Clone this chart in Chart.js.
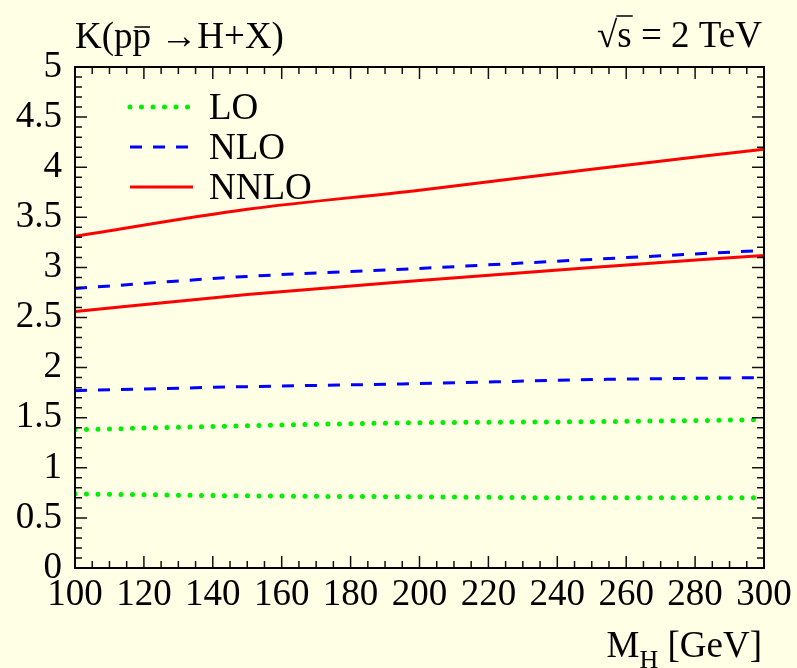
<!DOCTYPE html>
<html>
<head>
<meta charset="utf-8">
<title>K factor for Higgs production at the Tevatron</title>
<script src="https://cdn.jsdelivr.net/npm/chart.js@4.4.0/dist/chart.umd.min.js"></script>
<style>
	html, body { margin: 0; padding: 0; background: #ffffe5; }
	#kChart { display: block; }
</style>
</head>
<body>
<canvas id="kChart" width="797" height="668"></canvas>
<script>
//K factor vs Higgs mass, pp-bar -> H+X at sqrt(s) = 2 TeV

//Higgs masses (GeV)
const massPoints = [100, 150, 200, 250, 300];

//upper / lower edge of each scale band
const loUpper   = [1.38, 1.42, 1.45, 1.46, 1.48];
const loLower   = [0.74, 0.72, 0.71, 0.70, 0.70];
const nloUpper  = [2.79, 2.91, 2.99, 3.08, 3.17];
const nloLower  = [1.77, 1.81, 1.84, 1.88, 1.90];
const nnloUpper = [3.31, 3.58, 3.77, 3.98, 4.18];
const nnloLower = [2.56, 2.73, 2.87, 3.00, 3.12];

const legendNames = ['LO', 'NLO', 'NNLO'];

//axis ranges and tick steps
const X_MIN = 100, X_MAX = 300, X_MAJOR = 20, X_MINOR = 5;
const Y_MIN = 0, Y_MAX = 5, Y_MAJOR = 0.5, Y_MINOR = 0.1;

const BG = '#ffffe5';
const SERIF = '"Liberation Serif", "Times New Roman", serif';
const FONT_SIZE = 37;

const styles = {
	LO:   { borderColor: '#00ee00', borderWidth: 5, borderDash: [0, 11.5], borderCapStyle: 'round' },
	NLO:  { borderColor: '#0000ff', borderWidth: 3, borderDash: [12, 11], borderCapStyle: 'butt' },
	NNLO: { borderColor: '#ff0000', borderWidth: 3, borderDash: [], borderCapStyle: 'butt' }
};

function toPoints(values) {
	return massPoints.map((m, i) => ({ x: m, y: values[i] }));
}

function makeSet(name, values) {
	return Object.assign({
		label: name,
		data: toPoints(values),
		fill: false,
		cubicInterpolationMode: 'monotone',
		pointRadius: 0,
		pointHoverRadius: 0
	}, styles[name]);
}

const chartData = {
	datasets: [
		makeSet('LO', loUpper),
		makeSet('LO', loLower),
		makeSet('NLO', nloUpper),
		makeSet('NLO', nloLower),
		makeSet('NNLO', nnloUpper),
		makeSet('NNLO', nnloLower)
	]
};

//page background
const background = {
	id: 'background',
	beforeDraw(chart) {
		const ctx = chart.ctx;
		ctx.save();
		ctx.fillStyle = BG;
		ctx.fillRect(0, 0, chart.width, chart.height);
		ctx.restore();
	}
};

//frame with inward ticks on all four sides
const frameTicks = {
	id: 'frameTicks',
	afterDatasetsDraw(chart) {
		const { ctx, chartArea: a, scales: { x, y } } = chart;
		ctx.save();
		ctx.strokeStyle = '#111';
		ctx.lineWidth = 1.5;
		ctx.beginPath();
		const nx = Math.round((X_MAX - X_MIN) / X_MINOR);
		for (let i = 0; i <= nx; i++) {
			const v = X_MIN + i * X_MINOR;
			const px = x.getPixelForValue(v);
			const len = (v % X_MAJOR === 0) ? 12 : 7;
			ctx.moveTo(px, a.bottom);
			ctx.lineTo(px, a.bottom - len);
			ctx.moveTo(px, a.top);
			ctx.lineTo(px, a.top + len);
		}
		const ny = Math.round((Y_MAX - Y_MIN) / Y_MINOR);
		const per = Math.round(Y_MAJOR / Y_MINOR);
		for (let i = 0; i <= ny; i++) {
			const py = y.getPixelForValue(Y_MIN + i * Y_MINOR);
			const len = (i % per === 0) ? 12 : 7;
			ctx.moveTo(a.left, py);
			ctx.lineTo(a.left + len, py);
			ctx.moveTo(a.right, py);
			ctx.lineTo(a.right - len, py);
		}
		ctx.stroke();
		ctx.lineWidth = 2;
		ctx.strokeStyle = '#000';
		ctx.strokeRect(a.left, a.top, a.width, a.height);
		ctx.restore();
	}
};

//legend: one sample line per order, styled from its first dataset
const orderLegend = {
	id: 'orderLegend',
	afterDraw(chart) {
		const ctx = chart.ctx;
		ctx.save();
		ctx.font = FONT_SIZE + 'px ' + SERIF;
		ctx.textBaseline = 'alphabetic';
		ctx.fillStyle = '#000';
		legendNames.forEach((name, row) => {
			const ds = chart.data.datasets.find(d => d.label === name);
			const yy = 107 + row * 40;
			ctx.beginPath();
			ctx.strokeStyle = ds.borderColor;
			ctx.lineWidth = ds.borderWidth;
			ctx.setLineDash(ds.borderDash);
			ctx.lineCap = ds.borderCapStyle;
			ctx.moveTo(130, yy);
			ctx.lineTo(193, yy);
			ctx.stroke();
			ctx.setLineDash([]);
			ctx.fillText(name, 209, yy + 12);
		});
		ctx.restore();
	}
};

//titles: process, energy, x axis
const titles = {
	id: 'titles',
	afterDraw(chart) {
		const ctx = chart.ctx;
		const big = FONT_SIZE + 'px ' + SERIF;
		const small = '26px ' + SERIF;
		ctx.save();
		ctx.fillStyle = '#000';
		ctx.strokeStyle = '#000';
		ctx.textBaseline = 'alphabetic';
		ctx.font = big;

		//K(p pbar -> H+X)
		const left = 'K(p';
		const bar = 'p';
		const rest = ' \u2192H+X)';
		let tx = 75;
		ctx.fillText(left, tx, 48);
		tx += ctx.measureText(left).width;
		ctx.fillText(bar, tx, 48);
		const bw = ctx.measureText(bar).width;
		ctx.lineWidth = 1.5;
		ctx.beginPath();
		ctx.moveTo(tx + 2, 27);
		ctx.lineTo(tx + bw - 1, 27);
		ctx.stroke();
		tx += bw;
		ctx.fillText(rest, tx, 48);

		//sqrt(s) = 2 TeV, right aligned
		const rad = '\u221A';
		const s = 's';
		const tail = ' = 2 TeV';
		const wRad = ctx.measureText(rad).width;
		const wS = ctx.measureText(s).width;
		const wTail = ctx.measureText(tail).width;
		let rx = 762 - (wRad + wS + wTail);
		ctx.fillText(rad, rx, 47);
		rx += wRad;
		ctx.fillText(s, rx, 47);
		ctx.beginPath();
		ctx.lineWidth = 1.5;
		ctx.moveTo(rx - 1, 16);
		ctx.lineTo(rx + wS + 1, 16);
		ctx.stroke();
		ctx.fillText(tail, rx + wS, 47);

		//M_H [GeV]
		const m = 'M';
		const sub = 'H';
		const unit = ' [GeV]';
		ctx.font = big;
		const wM = ctx.measureText(m).width;
		const wUnit = ctx.measureText(unit).width;
		ctx.font = small;
		const wSub = ctx.measureText(sub).width;
		let mx = 762 - (wM + wSub + wUnit);
		ctx.font = big;
		ctx.fillText(m, mx, 657);
		mx += wM;
		ctx.font = small;
		ctx.fillText(sub, mx, 668);
		mx += wSub;
		ctx.font = big;
		ctx.fillText(unit, mx, 657);
		ctx.restore();
	}
};

const tickFont = { family: SERIF, size: FONT_SIZE };

const config = {
	type: 'line',
	data: chartData,
	options: {
		responsive: false,
		animation: false,
		events: [],
		layout: {
			padding: { top: 67, right: 33, left: 0, bottom: 0 }
		},
		plugins: {
			legend: { display: false },
			tooltip: { enabled: false }
		},
		scales: {
			x: {
				type: 'linear',
				min: X_MIN,
				max: X_MAX,
				grid: { display: false, drawTicks: false },
				border: { display: false },
				ticks: {
					stepSize: X_MAJOR,
					color: '#000',
					font: tickFont,
					padding: 5,
					maxRotation: 0,
					autoSkip: false
				},
				afterFit(scale) { scale.height = 100; }
			},
			y: {
				type: 'linear',
				min: Y_MIN,
				max: Y_MAX,
				grid: { display: false, drawTicks: false },
				border: { display: false },
				ticks: {
					stepSize: Y_MAJOR,
					color: '#000',
					font: tickFont,
					padding: 13,
					callback: value => String(value)
				},
				afterFit(scale) { scale.width = 75; }
			}
		}
	},
	plugins: [background, frameTicks, orderLegend, titles]
};

const ctx = document.getElementById('kChart').getContext('2d');
const chart = new Chart(ctx, config);
</script>
</body>
</html>
